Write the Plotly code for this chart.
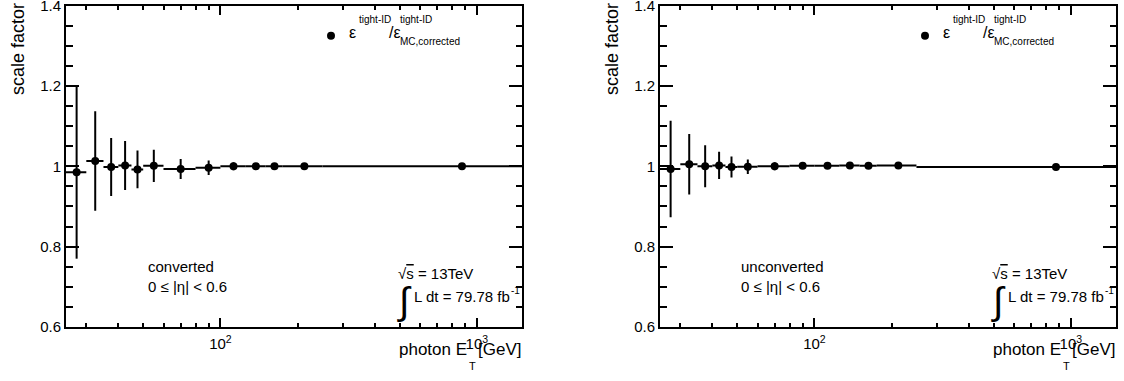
import plotly.graph_objects as go

# ---------------- data ----------------
et_low = [25, 30, 35, 40, 45, 50, 60, 80, 100, 125, 150, 175, 250]
et_high = [30, 35, 40, 45, 50, 60, 80, 100, 125, 150, 175, 250, 1500]

sf_conv = [0.985, 1.013, 0.998, 1.002, 0.992, 1.001, 0.993, 0.996, 1.000, 1.000, 1.000, 1.000, 1.000]
err_conv = [0.215, 0.124, 0.072, 0.061, 0.047, 0.040, 0.025, 0.018, 0.010, 0.007, 0.005, 0.004, 0.003]

sf_unconv = [0.993, 1.005, 1.000, 1.002, 0.998, 0.999, 1.000, 1.001, 1.001, 1.002, 1.001, 1.002, 0.998]
err_unconv = [0.120, 0.075, 0.052, 0.034, 0.026, 0.018, 0.010, 0.006, 0.004, 0.004, 0.004, 0.003, 0.003]

x_tickvals = [100, 1000]
x_ticktext = ["10<sup>2</sup>", "10<sup>3</sup>"]
x_minor = [30, 40, 50, 60, 70, 80, 90, 200, 300, 400, 500, 600, 700, 800, 900]
y_tickvals = [0.6, 0.8, 1.0, 1.2, 1.4]
y_ticktext = ["0.6", "0.8", "1", "1.2", "1.4"]

panels = [
    dict(sf=sf_conv, err=err_conv, label="converted"),
    dict(sf=sf_unconv, err=err_unconv, label="unconverted"),
]

# ---------------- layout geometry ----------------
W, H = 1124, 381
FONT = "Liberation Sans, Arial, sans-serif"
panel_left = [66, 660]
panel_w = 456
y_top, y_bot = 5.5, 327

def px(x):
    return x / W

def py(y):
    return 1 - y / H

centers = [(a + b) / 2 for a, b in zip(et_low, et_high)]
ex_plus = [b - c for b, c in zip(et_high, centers)]
ex_minus = [c - a for a, c in zip(et_low, centers)]

fig = go.Figure()
annotations = []
shapes = []

def txt(text, x, baseline, size, xanchor="left", **kw):
    annotations.append(dict(
        text=text, xref="paper", yref="paper",
        x=px(x), y=py(baseline + 0.212 * size),
        xanchor=xanchor, yanchor="bottom", showarrow=False, borderpad=0,
        font=dict(family=FONT, size=size, color="black"), align="left", **kw))

for i, p in enumerate(panels):
    n = "" if i == 0 else str(i + 1)
    fig.add_trace(go.Scatter(
        x=centers, y=p["sf"], mode="markers",
        xaxis="x" + n, yaxis="y" + n, showlegend=False,
        marker=dict(color="black", size=8, symbol="circle"),
        error_y=dict(type="data", array=p["err"], visible=True,
                     color="black", thickness=2, width=0),
        error_x=dict(type="data", array=ex_plus, arrayminus=ex_minus,
                     symmetric=False, visible=True,
                     color="black", thickness=2, width=0),
        cliponaxis=True,
    ))
    L = panel_left[i]
    xa = dict(
        type="log", range=[1.39794, 3.17609],
        domain=[px(L), px(L + panel_w)], anchor="y" + n,
        showline=True, linecolor="black", linewidth=2, mirror="allticks",
        ticks="inside", ticklen=9, tickwidth=2, tickcolor="black",
        tickvals=x_tickvals, ticktext=x_ticktext, ticklabelstandoff=2,
        ticklabeloverflow="allow",
        minor=dict(tickvals=x_minor, ticks="inside", ticklen=4.5,
                   tickwidth=2, tickcolor="black", showgrid=False),
        showgrid=False, zeroline=False, automargin=False,
        tickfont=dict(family=FONT, size=15, color="black"),
    )
    ya = dict(
        range=[0.6, 1.4], domain=[py(y_bot), py(y_top)], anchor="x" + n,
        showline=True, linecolor="black", linewidth=2, mirror="allticks",
        ticks="inside", ticklen=13, tickwidth=2, tickcolor="black",
        tickvals=y_tickvals, ticktext=y_ticktext, ticklabeloverflow="allow",
        minor=dict(dtick=0.05, tick0=0.6, ticks="inside", ticklen=6.5,
                   tickwidth=2, tickcolor="black", showgrid=False),
        showgrid=False, zeroline=False, automargin=False,
        tickfont=dict(family=FONT, size=15, color="black"),
    )
    fig.update_layout(**{"xaxis" + n: xa, "yaxis" + n: ya})

    # axis titles (ROOT style, aligned to the axis ends)
    annotations.append(dict(
        text="scale factor", xref="paper", yref="paper",
        x=px(L - 48), y=py(2), xanchor="center", yanchor="top",
        textangle=-90, showarrow=False, borderpad=0,
        font=dict(family=FONT, size=18, color="black")))
    txt("photon E", L + 331.5, 356, 17)
    txt("T", L + 401.5, 371, 11)
    txt("[GeV]", L + 456, 356, 17, xanchor="right")

    # legend entry
    shapes.append(dict(type="circle", xref="paper", yref="paper",
                       xsizemode="pixel", ysizemode="pixel",
                       xanchor=px(L + 265), yanchor=py(35.7),
                       x0=-4, x1=4, y0=-4, y1=4,
                       fillcolor="black", line=dict(color="black", width=0)))
    txt("ε", L + 282, 38.3, 16)
    txt("tight-ID", L + 292, 24, 10)
    txt("/ε", L + 322, 38.3, 16)
    txt("tight-ID", L + 333, 24, 10)
    txt("MC,corrected", L + 333, 45.5, 10)

    # region label
    txt(p["label"], L + 80.5, 273.3, 15)
    txt("0 ≤ |η| < 0.6", L + 80.5, 293.3, 15)

    # energy / luminosity
    txt("√<span style='text-decoration:overline'>s</span> = 13TeV", L + 330.5, 280, 15)
    annotations.append(dict(
        text="∫", xref="paper", yref="paper", x=px(L + 330), y=py(301),
        xanchor="left", yanchor="middle", showarrow=False, borderpad=0,
        font=dict(family=FONT, size=38, color="black")))
    txt("L dt = 79.78 fb", L + 347, 302.7, 15)
    txt("-1", L + 444, 295, 10)

fig.update_layout(
    width=W, height=H, margin=dict(l=0, r=0, t=0, b=0, autoexpand=False),
    paper_bgcolor="white", plot_bgcolor="white",
    annotations=annotations, shapes=shapes, showlegend=False,
    font=dict(family=FONT, color="black"),
)

fig.write_html("out.html")
